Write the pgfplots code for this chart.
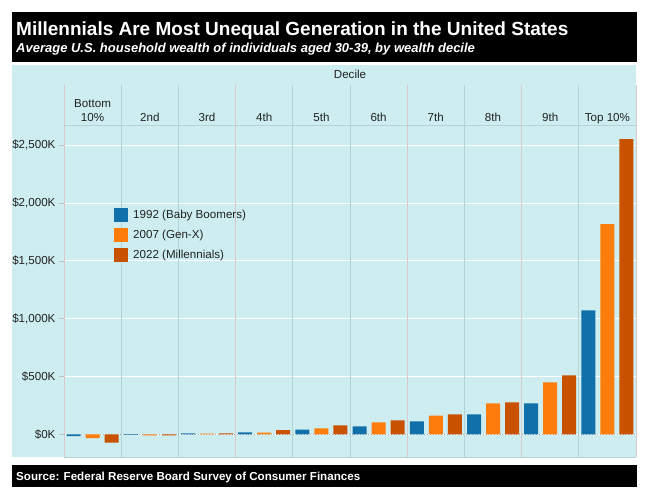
\documentclass[border=0pt]{standalone}
\usepackage{pgfplots}
\pgfplotsset{compat=1.18}
\usepackage{pgfplotstable}
\usepackage{fontspec}
\setmainfont{Liberation Sans}
\definecolor{cA}{HTML}{1170AA}
\definecolor{cB}{HTML}{FC7D0B}
\definecolor{cC}{HTML}{C85200}
\definecolor{panel}{HTML}{CDEDF0}
\definecolor{divpink}{HTML}{D9C9CC}
\definecolor{divblue}{HTML}{B3D3D8}
\definecolor{txt}{HTML}{222222}
\pgfplotstableread{
x y1992 y2007 y2022
0.5 -15 -33 -72
1.5 -4 -8 -8
2.5 9 7 9
3.5 17 15 37
4.5 41 52 78
5.5 69 104 121
6.5 112 162 173
7.5 173 268 277
8.5 268 450 510
9.5 1073 1817 2552
}\datatable
\newcommand{\fs}{\fontsize{11.6bp}{14bp}\selectfont}
\begin{document}
\begin{tikzpicture}
\begin{scope}[x=1bp,y=-1bp]
\fill[white] (0,0) rectangle (649,499);
\fill[panel] (12,65) rectangle (636,457);
\fill[black] (12,12) rectangle (637,62.5);
\node[anchor=base west, white, font=\fontsize{19bp}{22bp}\selectfont\bfseries, inner sep=0] at (16,36) {Millennials Are Most Unequal Generation in the United States};
\node[anchor=base west, white, font=\fontsize{13bp}{15bp}\selectfont\bfseries\itshape, inner sep=0] at (16,52.5) {Average U.S. household wealth of individuals aged 30-39, by wealth decile};
\fill[black] (12,465) rectangle (637,487);
\node[anchor=base west, white, font=\fs\bfseries, inner sep=0] at (16,480) {Source: Federal Reserve Board Survey of Consumer Finances};
\node[anchor=base, text=txt, font=\fs, inner sep=0] at (350,79) {Decile};
\node[anchor=base, text=txt, font=\fs, inner sep=0] at (92.6,107.5) {Bottom};
\node[anchor=base, text=txt, font=\fs, inner sep=0] at (92.6,121.5) {10\%};
\foreach \xx/\lab in {149.8/2nd,207/3rd,264.2/4th,321.4/5th,378.6/6th,435.8/7th,493/8th,550.2/9th,607.4/Top 10\%}{
  \node[anchor=base, text=txt, font=\fs, inner sep=0] at (\xx,121.5) {\lab};
}
\end{scope}
\begin{axis}[
  at={(64bp,-457bp)}, anchor=south west,
  scale only axis, width=572bp, height=331.3bp,
  xmin=0, xmax=10, ymin=-196, ymax=2669,
  xtick=\empty,
  ytick={0,500,1000,1500,2000,2500},
  yticklabels={\$0K,\$500K,{\$1,000K},{\$1,500K},{\$2,000K},{\$2,500K}},
  yticklabel style={font=\fs, text=txt},
  ytick pos=left,
  tick align=outside, major tick length=5bp,
  ytick style={draw=gray!50, line width=0.6bp},
  axis line style={draw=none},
  ymajorgrids, grid style={white, line width=1bp},
  ybar, bar width=14bp,
  clip=false,
  legend style={at={(0.0874,0.7525)}, anchor=north west, draw=none, fill=none,
    font=\fs, text=txt, row sep=6bp, inner sep=0pt, cells={anchor=west},
    /tikz/every odd column/.append style={column sep=3bp}},
  legend image code/.code={\fill[#1] (0bp,-7bp) rectangle (14bp,7bp);},
]
\pgfplotsinvokeforeach{0,0.3,0.6,0.8,1}{
  \draw[divpink, line width=1bp] (rel axis cs:#1,0) -- ([yshift=40.7bp]rel axis cs:#1,1);
}
\pgfplotsinvokeforeach{0.1,0.2,0.4,0.5,0.7,0.9}{
  \draw[divblue, line width=1bp] (rel axis cs:#1,0) -- ([yshift=40.7bp]rel axis cs:#1,1);
}
\draw[divblue, line width=1bp] (rel axis cs:0,1) -- (rel axis cs:1,1);
\draw[divblue, line width=1bp] (rel axis cs:0,0) -- (rel axis cs:1,0);
\draw[gray!70, dotted, line width=0.8bp] (axis cs:0,0) -- (axis cs:10,0);
\addplot[draw=none, fill=cA, bar shift=-19bp] table[x=x, y=y1992] {\datatable};
\addplot[draw=none, fill=cB, bar shift=0bp] table[x=x, y=y2007] {\datatable};
\addplot[draw=none, fill=cC, bar shift=19bp] table[x=x, y=y2022] {\datatable};
\legend{1992 (Baby Boomers),2007 (Gen-X),2022 (Millennials)}
\end{axis}
\end{tikzpicture}
\end{document}
